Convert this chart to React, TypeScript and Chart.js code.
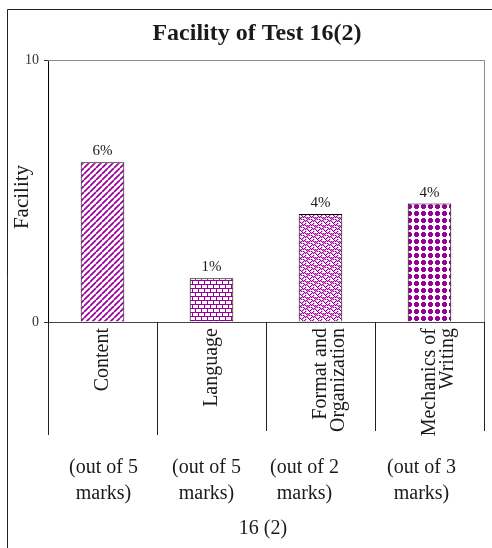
import React, { useEffect, useRef } from 'react';
import { Chart, registerables } from 'chart.js';

Chart.register(...registerables);

// ---------- data ----------
const categories: string[][] = [
  ['Content'],
  ['Language'],
  ['Format and', 'Organization'],
  ['Mechanics of', 'Writing'],
];
const facility = [6.1, 1.67, 4.12, 4.52];
const valueLabels = ['6%', '1%', '4%', '4%'];
const markNotes: string[][] = [
  ['(out of 5', 'marks)'],
  ['(out of 5', 'marks)'],
  ['(out of 2', 'marks)'],
  ['(out of 3', 'marks)'],
];
const yTicks = [0, 10];
const chartTitle = 'Facility of Test 16(2)';
const yTitle = 'Facility';
const xTitle = '16 (2)';

// ---------- layout / style ----------
const noteNudge = [1, -5, -16, -8];
const SERIF = '"Liberation Serif", "Times New Roman", serif';
const PURPLE = '#990099';
const INK = '#1a1a1a';

type Painter = (g: CanvasRenderingContext2D) => void;

function makePattern(ctx: CanvasRenderingContext2D, w: number, h: number, paint: Painter) {
  const c = document.createElement('canvas');
  c.width = w;
  c.height = h;
  const g = c.getContext('2d')!;
  g.fillStyle = '#ffffff';
  g.fillRect(0, 0, w, h);
  paint(g);
  return ctx.createPattern(c, 'repeat')!;
}

const stripes: Painter = (g) => {
  g.strokeStyle = PURPLE;
  g.lineWidth = 1.7;
  g.beginPath();
  for (const o of [-6, 0, 6]) {
    g.moveTo(o, 6);
    g.lineTo(o + 6, 0);
  }
  g.stroke();
};

const bricks: Painter = (g) => {
  g.fillStyle = PURPLE;
  g.fillRect(0, 0, 12, 1);
  g.fillRect(0, 4, 12, 1);
  g.fillRect(0, 0, 1, 4);
  g.fillRect(6, 0, 1, 4);
  g.fillRect(3, 4, 1, 4);
  g.fillRect(9, 4, 1, 4);
};

const weave: Painter = (g) => {
  g.fillStyle = PURPLE;
  const px: [number, number][] = [
    [0, 0], [1, 1], [2, 2], [3, 3], [4, 2], [5, 1], [6, 0],
    [2, 4], [3, 5], [4, 6], [5, 7], [6, 6], [7, 5], [0, 4],
    [1, 7], [5, 3], [3, 1], [7, 3], [1, 5], [7, 1],
  ];
  for (const [x, y] of px) g.fillRect(x, y, 1, 1);
  g.globalAlpha = 0.35;
  for (const [x, y] of px) g.fillRect((x + 1) % 8, y, 1, 1);
  g.globalAlpha = 1;
};

const dots: Painter = (g) => {
  g.fillStyle = PURPLE;
  g.fillRect(1, 2, 5, 3);
  g.fillRect(2, 1, 3, 5);
};

const decorPlugin = {
  id: 'decor',
  beforeDraw(chart: any) {
    const { ctx, width, height } = chart;
    ctx.save();
    ctx.fillStyle = '#ffffff';
    ctx.fillRect(0, 0, width, height);
    ctx.restore();
  },
  afterDraw(chart: any) {
    const { ctx, chartArea: a } = chart;
    const x = chart.scales.x;
    ctx.save();

    // outer frame (cropped at right / bottom)
    ctx.strokeStyle = '#222';
    ctx.lineWidth = 1;
    ctx.beginPath();
    ctx.moveTo(7.5, chart.height);
    ctx.lineTo(7.5, 9.5);
    ctx.lineTo(chart.width, 9.5);
    ctx.stroke();

    // plot frame top / right (grey)
    ctx.strokeStyle = '#8a8a8a';
    ctx.beginPath();
    ctx.moveTo(a.left, Math.round(a.top) + 0.5);
    ctx.lineTo(Math.round(a.right) + 0.5, Math.round(a.top) + 0.5);
    ctx.lineTo(Math.round(a.right) + 0.5, a.bottom);
    ctx.stroke();

    // category dividers below axis
    ctx.strokeStyle = '#222';
    ctx.beginPath();
    for (let i = 0; i <= categories.length; i++) {
      const px = Math.round(x.getPixelForValue(i - 0.5)) + 0.5;
      ctx.moveTo(px, a.bottom);
      ctx.lineTo(px, a.bottom + (i < 2 ? 113 : 109));
    }
    ctx.stroke();

    ctx.fillStyle = INK;
    ctx.textAlign = 'center';

    // value labels
    ctx.font = `15px ${SERIF}`;
    ctx.textBaseline = 'alphabetic';
    const meta = chart.getDatasetMeta(0);
    meta.data.forEach((bar: any, i: number) => {
      ctx.fillText(valueLabels[i], bar.x, bar.y - 7);
    });

    // notes under categories
    ctx.font = `20px ${SERIF}`;
    ctx.textBaseline = 'middle';
    markNotes.forEach((lines, i) => {
      const cx = x.getPixelForValue(i) + noteNudge[i];
      lines.forEach((ln, j) => {
        ctx.fillText(ln, cx, a.bottom + 146 + j * 26);
      });
    });

    // x title
    ctx.fillText(xTitle, (a.left + a.right) / 2 - 3, a.bottom + 207);

    // chart title
    ctx.font = `bold 24px ${SERIF}`;
    ctx.fillText(chartTitle, 257, 34);

    // y title
    ctx.font = `21px ${SERIF}`;
    ctx.translate(22, (a.top + a.bottom) / 2 + 6);
    ctx.rotate(-Math.PI / 2);
    ctx.fillText(yTitle, 0, 0);

    ctx.restore();
  },
};

export default function App() {
  const ref = useRef<HTMLCanvasElement | null>(null);

  useEffect(() => {
    const canvas = ref.current!;
    const ctx = canvas.getContext('2d')!;
    const fills = [
      makePattern(ctx, 6, 6, stripes),
      makePattern(ctx, 12, 8, bricks),
      makePattern(ctx, 8, 8, weave),
      makePattern(ctx, 7, 7, dots),
    ];

    const chart = new Chart(canvas, {
      type: 'bar',
      data: {
        labels: categories,
        datasets: [
          {
            data: facility,
            backgroundColor: fills,
            borderColor: '#000',
            borderWidth: 1,
            categoryPercentage: 1,
            barPercentage: 0.4,
          },
        ],
      },
      options: {
        responsive: false,
        animation: false,
        devicePixelRatio: 1,
        layout: { padding: { top: 60, right: 8, left: 0, bottom: 0 } },
        plugins: {
          legend: { display: false },
          tooltip: { enabled: false },
          title: { display: false },
        },
        scales: {
          x: {
            offset: true,
            grid: { display: false },
            border: { display: true, color: '#444', width: 1 },
            ticks: {
              autoSkip: false,
              minRotation: 90,
              maxRotation: 90,
              padding: -2,
              color: INK,
              font: { family: SERIF, size: 20, lineHeight: 0.92 },
            },
            afterFit: (s: any) => {
              s.height = 226;
            },
          },
          y: {
            min: 0,
            max: 10,
            afterBuildTicks: (s: any) => {
              s.ticks = yTicks.map((v) => ({ value: v }));
            },
            grid: {
              display: true,
              drawOnChartArea: false,
              drawTicks: true,
              tickLength: 4,
              color: '#333',
            },
            border: { display: true, color: '#000', width: 1 },
            ticks: {
              padding: 5,
              color: '#333',
              font: { family: SERIF, size: 14 },
            },
            afterFit: (s: any) => {
              s.width = 48;
            },
          },
        },
      },
      plugins: [decorPlugin],
    });

    return () => chart.destroy();
  }, []);

  return (
    <div style={{ position: 'absolute', left: 0, top: 0, width: 492, height: 548 }}>
      <canvas ref={ref} width={492} height={548} style={{ display: 'block' }} />
    </div>
  );
}
